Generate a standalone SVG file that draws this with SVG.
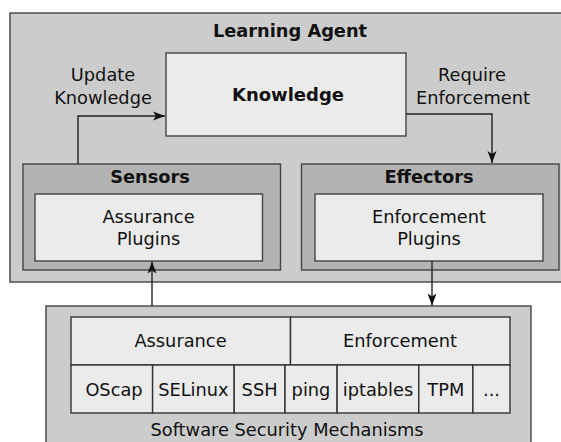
<svg xmlns="http://www.w3.org/2000/svg" width="561" height="442" viewBox="0 0 561 442">
<style>
text{font-family:"DejaVu Sans","Noto Sans",sans-serif;font-size:17.8px;fill:#111;text-anchor:middle}
.b{font-weight:bold}
.k{font-size:18px}
.outer{fill:#cccccc;stroke:#444;stroke-width:1.4}
.mid{fill:#b3b3b3;stroke:#444;stroke-width:1.4}
.light{fill:#ebebeb;stroke:#444;stroke-width:1.4}
.cell{fill:#ebebeb;stroke:#333;stroke-width:1.4}
.conn{fill:none;stroke:#222;stroke-width:1.4}
</style>
<defs>
<marker id="ah" markerUnits="userSpaceOnUse" markerWidth="12" markerHeight="10" viewBox="0 0 12 10" refX="12" refY="5" orient="auto">
<path d="M0,0.5 L12,5 L0,9.5 L3,5 Z" fill="#111"/>
</marker>
</defs>
<rect width="561" height="442" fill="#fff"/>
<g id="learning-agent">
<rect class="outer" x="10" y="13" width="570" height="269"/>
<text class="b" x="290" y="37">Learning Agent</text>
</g>
<g id="knowledge">
<rect class="light" x="166" y="53" width="240" height="83"/>
<text class="b k" x="288" y="101">Knowledge</text>
</g>
<g id="sensors">
<rect class="mid" x="23" y="164" width="257.5" height="106"/>
<text class="b" x="150" y="183">Sensors</text>
</g>
<g id="assurance-plugins">
<rect class="light" x="35" y="194" width="227.5" height="67"/>
<text x="148.5" y="223">Assurance</text>
<text x="148.5" y="245">Plugins</text>
</g>
<g id="effectors">
<rect class="mid" x="301.5" y="164" width="257.5" height="106"/>
<text class="b" x="429" y="183">Effectors</text>
</g>
<g id="enforcement-plugins">
<rect class="light" x="315" y="194" width="228" height="67"/>
<text x="429" y="223">Enforcement</text>
<text x="429" y="245">Plugins</text>
</g>
<g id="software-security-mechanisms">
<rect class="outer" x="46" y="306" width="485" height="150"/>
<rect class="cell" x="71" y="317" width="219.5" height="48"/>
<rect class="cell" x="290.5" y="317" width="219.5" height="48"/>
<text x="180.5" y="347">Assurance</text>
<text x="400" y="347">Enforcement</text>
<rect class="cell" x="71" y="365" width="81.6" height="48"/>
<rect class="cell" x="152.6" y="365" width="81.6" height="48"/>
<rect class="cell" x="234.2" y="365" width="50.8" height="48"/>
<rect class="cell" x="285" y="365" width="52.1" height="48"/>
<rect class="cell" x="337.1" y="365" width="81.7" height="48"/>
<rect class="cell" x="418.8" y="365" width="54.1" height="48"/>
<rect class="cell" x="472.9" y="365" width="37.1" height="48"/>
<text x="114" y="396">OScap</text>
<text x="193.4" y="396">SELinux</text>
<text x="259.6" y="396">SSH</text>
<text x="311" y="396">ping</text>
<text x="378" y="396">iptables</text>
<text x="445.8" y="396">TPM</text>
<text x="491.5" y="396">...</text>
<text x="287" y="436">Software Security Mechanisms</text>
</g>
<g id="labels">
<text x="103" y="81">Update</text>
<text x="103" y="104">Knowledge</text>
<text x="472" y="81">Require</text>
<text x="473" y="104">Enforcement</text>
</g>
<g id="connectors">
<path class="conn" d="M78,164 V116 H165" marker-end="url(#ah)"/>
<path class="conn" d="M406,114 H492 V163" marker-end="url(#ah)"/>
<path class="conn" d="M152,306 V261.5" marker-end="url(#ah)"/>
<path class="conn" d="M432,261 V305.5" marker-end="url(#ah)"/>
</g>
</svg>
